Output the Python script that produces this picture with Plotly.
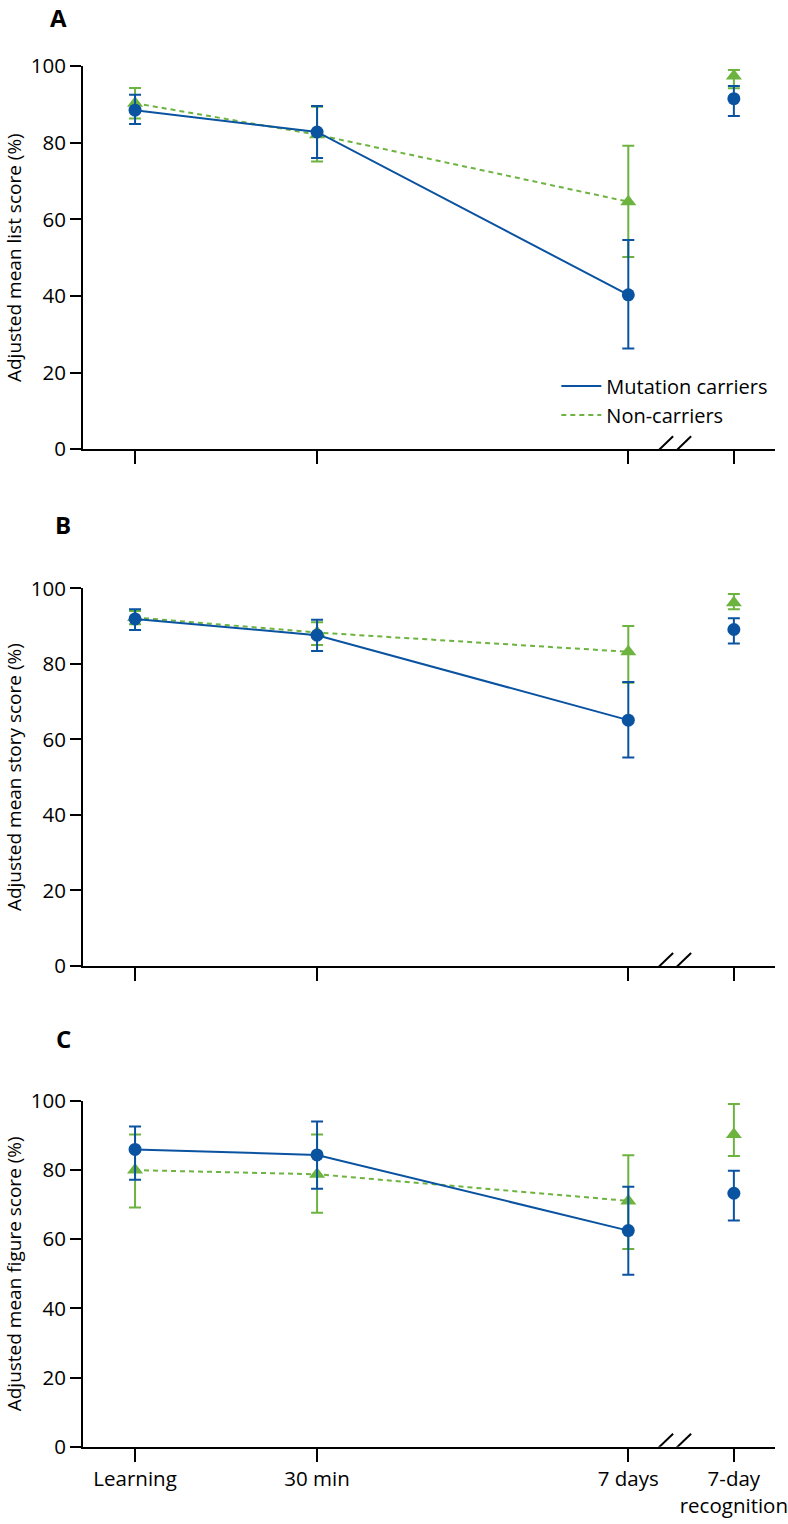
import plotly.graph_objects as go

# timepoints along the x axis
timepoints = ["Learning", "30 min", "7 days", "7-day<br>recognition"]
x_pos = [0, 1, 2.71, 3.29]
break_pos = [2.882, 2.981]

# panel A - list
list_mc = [88.5, 82.8, 40.3, 91.5]
list_mc_hi = [92.5, 89.6, 54.6, 94.8]
list_mc_lo = [84.9, 76.0, 26.3, 87.0]
list_nc = [90.3, 82.1, 64.6, 97.4]
list_nc_hi = [94.3, 89.4, 79.2, 99.0]
list_nc_lo = [86.3, 75.1, 50.2, 94.2]

# panel B - story
story_mc = [91.9, 87.6, 65.1, 89.1]
story_mc_hi = [94.5, 91.7, 75.2, 92.1]
story_mc_lo = [89.0, 83.4, 55.2, 85.4]
story_nc = [92.3, 88.3, 83.2, 96.2]
story_nc_hi = [94.0, 91.0, 90.0, 98.5]
story_nc_lo = [90.5, 85.0, 75.0, 94.5]

# panel C - figure
fig_mc = [86.0, 84.4, 62.5, 73.3]
fig_mc_hi = [92.6, 94.1, 75.2, 79.8]
fig_mc_lo = [77.2, 74.6, 49.7, 65.4]
fig_nc = [80.0, 78.8, 71.1, 90.3]
fig_nc_hi = [90.3, 90.3, 84.3, 99.1]
fig_nc_lo = [69.2, 67.7, 57.2, 84.1]

y_titles = ["Adjusted mean list score (%)", "Adjusted mean story score (%)",
            "Adjusted mean figure score (%)"]
panel_letters = ["A", "B", "C"]

BLUE = "#0a53a1"
GREEN = "#6db33f"
FONT = "Open Sans"

panels = [
    (list_mc, list_mc_hi, list_mc_lo, list_nc, list_nc_hi, list_nc_lo),
    (story_mc, story_mc_hi, story_mc_lo, story_nc, story_nc_hi, story_nc_lo),
    (fig_mc, fig_mc_hi, fig_mc_lo, fig_nc, fig_nc_hi, fig_nc_lo),
]
domains = [[0.7027, 0.9681], [0.3449, 0.6064], [0.0120, 0.2514]]
letter_pos = [(-0.0361, 1.002), (-0.0289, 0.6503), (-0.0289, 0.2950)]

fig = go.Figure()


def err(mean, hi, lo):
    return dict(type="data", symmetric=False,
                array=[h - m for h, m in zip(hi, mean)],
                arrayminus=[m - l for m, l in zip(mean, lo)])


for i, (mc, mc_hi, mc_lo, nc, nc_hi, nc_lo) in enumerate(panels):
    xa = "x" if i == 0 else "x%d" % (i + 1)
    ya = "y" if i == 0 else "y%d" % (i + 1)
    for mean, hi, lo, col, sym, size, dash in [
        (nc, nc_hi, nc_lo, GREEN, "triangle-up", 14, "5px,4px"),
        (mc, mc_hi, mc_lo, BLUE, "circle", 13, "solid"),
    ]:
        e = err(mean, hi, lo)
        e.update(color=col, thickness=2, width=6)
        fig.add_trace(go.Scatter(
            x=x_pos[:3], y=mean[:3], mode="lines+markers",
            line=dict(color=col, width=2, dash=dash),
            marker=dict(color=col, size=size, symbol=sym),
            error_y=dict(e, array=e["array"][:3], arrayminus=e["arrayminus"][:3]),
            xaxis=xa, yaxis=ya, showlegend=False, cliponaxis=False))
        fig.add_trace(go.Scatter(
            x=x_pos[3:], y=mean[3:], mode="markers",
            marker=dict(color=col, size=size, symbol=sym),
            error_y=dict(e, array=e["array"][3:], arrayminus=e["arrayminus"][3:]),
            xaxis=xa, yaxis=ya, showlegend=False, cliponaxis=False))

# legend entries
fig.add_trace(go.Scatter(x=[None], y=[None], mode="lines", name="Mutation carriers",
                         line=dict(color=BLUE, width=2)))
fig.add_trace(go.Scatter(x=[None], y=[None], mode="lines", name="Non-carriers",
                         line=dict(color=GREEN, width=2, dash="5px,4px")))

layout = dict(
    width=788, height=1524,
    margin=dict(l=83, r=13, t=20, b=60),
    paper_bgcolor="white", plot_bgcolor="white",
    font=dict(family=FONT, size=18, color="black"),
    legend=dict(x=0.684, y=0.76, xanchor="left", yanchor="top", itemwidth=40,
                bgcolor="rgba(0,0,0,0)", font=dict(size=20), tracegroupgap=0),
    shapes=[], annotations=[],
)

for i in range(3):
    sfx = "" if i == 0 else str(i + 1)
    layout["xaxis" + sfx] = dict(
        range=[-0.286, 3.516], domain=[0, 1], anchor="y" + sfx,
        tickvals=x_pos, ticktext=timepoints if i == 2 else [""] * 4,
        ticks="outside", ticklen=13, tickwidth=2, tickcolor="black",
        tickfont=dict(size=20.5), ticklabeloverflow="allow",
        showline=True, linecolor="black", linewidth=2,
        showgrid=False, zeroline=False, automargin=False,
    )
    layout["yaxis" + sfx] = dict(
        range=[0, 100], domain=domains[i], anchor="x" + sfx,
        tickvals=[0, 20, 40, 60, 80, 100],
        ticks="outside", ticklen=11, tickwidth=2, tickcolor="black",
        tickfont=dict(size=20.5),
        showline=True, linecolor="black", linewidth=2,
        showgrid=False, zeroline=False, automargin=False,
        title=dict(text=y_titles[i], standoff=4, font=dict(size=19)),
    )
    for b in break_pos:
        layout["shapes"].append(dict(
            type="line", xref="x" + sfx, yref="y" + sfx,
            xsizemode="pixel", ysizemode="pixel",
            xanchor=b, yanchor=0, x0=-13.5, x1=13.5, y0=-13, y1=13,
            line=dict(color="black", width=2)))
    layout["annotations"].append(dict(
        text="<b>%s</b>" % panel_letters[i], xref="paper", yref="paper",
        x=letter_pos[i][0], y=letter_pos[i][1], xanchor="center", yanchor="middle",
        showarrow=False, font=dict(size=24, family=FONT)))

fig.update_layout(**layout)
fig.write_html("out.html", config={"displayModeBar": False},
               post_script="document.body.style.margin='0';")
